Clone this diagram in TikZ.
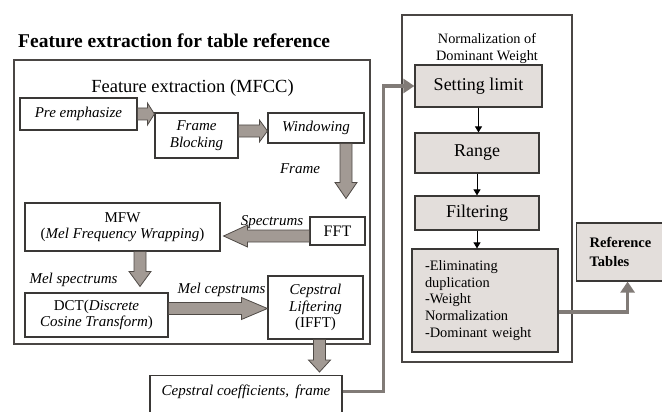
\documentclass[tikz,border=0pt]{standalone}
\usepackage{fontspec}
\setmainfont{Liberation Serif}
\usetikzlibrary{calc,arrows.meta}

\definecolor{boxline}{HTML}{3A3836}
\definecolor{panelline}{HTML}{4A4644}
\definecolor{boxfill}{HTML}{E3DEDB}
\definecolor{arrowfill}{HTML}{A29A94}
\definecolor{arrowline}{HTML}{4F4A46}
\definecolor{conncol}{HTML}{817B77}

% Outlined block arrow from #2 to the tip #3; #1 is the length of the head
\newcommand{\blockarrow}[3][12pt]{%
  \coordinate (ba-s) at #2;
  \coordinate (ba-t) at #3;
  \coordinate (ba-c) at ($(ba-t)!#1!(ba-s)$);
  \draw[barrow] ($(ba-s)!6pt!90:(ba-t)$) -- ($(ba-c)!6pt!-90:(ba-s)$)
    -- ($(ba-c)!11pt!-90:(ba-s)$) -- (ba-t) -- ($(ba-c)!11pt!90:(ba-s)$)
    -- ($(ba-c)!6pt!90:(ba-s)$) -- ($(ba-s)!6pt!-90:(ba-t)$) -- cycle;
}

\begin{document}
\begin{tikzpicture}[x=1pt,y=-1pt,
  box/.style={draw=boxline, line width=1.1pt, fill=white, inner sep=0pt,
    align=center, font=\fontsize{15}{16.5}\selectfont},
  ibox/.style={box, font=\fontsize{15}{16.5}\selectfont\itshape},
  gbox/.style={draw=boxline, line width=1.2pt, fill=boxfill, inner sep=0pt,
    font=\fontsize{18}{20}\selectfont},
  panel/.style={draw=panelline, line width=1.3pt, inner sep=0pt},
  lbl/.style={font=\fontsize{15}{17}\selectfont\itshape, inner sep=0pt, anchor=base},
  barrow/.style={fill=arrowfill, draw=arrowline, line width=0.8pt, line join=miter},
  conn/.style={draw=conncol, line width=3.6pt, -{Triangle[length=11pt,width=14pt]}},
  smallarrow/.style={line width=0.9pt, -{Triangle[length=6pt,width=7pt]}}
]
\useasboundingbox (0,0) rectangle (662,412);
\clip (0,0) rectangle (662,412);

% ---------- left part: MFCC feature extraction ----------
\node[font=\fontsize{19.5}{22}\selectfont\bfseries, anchor=base west, inner sep=0pt]
  (title) at (18,48) {Feature extraction for table reference};
\node[panel, minimum width=356pt, minimum height=284pt] (mfcc) at (192,202) {};
\node[font=\fontsize{18.5}{20}\selectfont, anchor=base, inner sep=0pt]
  (mfcctitle) at (192.5,93) {Feature extraction (MFCC)};

\node[ibox, minimum width=117pt, minimum height=32pt] (pre) at (78.5,114) {Pre emphasize};
\node[ibox, minimum width=83pt, minimum height=45pt] (fb) at (196.5,135.5) {Frame\\Blocking};
\node[ibox, minimum width=96pt, minimum height=30pt] (win) at (316,128) {Windowing};
\node[box, minimum width=55pt, minimum height=28pt, font=\fontsize{16}{18}\selectfont] (fft) at (337.5,231) {FFT};
\node[box, minimum width=195pt, minimum height=48pt] (mfw) at (122.5,227)
  {MFW\\(\textit{Mel Frequency Wrapping})};
\node[box, minimum width=143pt, minimum height=44pt] (dct) at (96.5,315)
  {DCT(\textit{Discrete}\\\textit{Cosine Transform})};
\node[box, minimum width=95pt, minimum height=63pt] (cl) at (315.5,307.5)
  {\textit{Cepstral}\\\textit{Liftering}\\(IFFT)};
\node[ibox, minimum width=192pt, anchor=north, inner ysep=6pt,
  text height=14pt, text depth=30pt] (cc) at (246,375) {Cepstral coefficients, \,frame};

% block arrows of the MFCC chain
\blockarrow[7pt]{(pre.east)}{(fb.west |- pre.east)}
\blockarrow[8pt]{($(fb.east)+(0,-4.5)$)}{($(win.west |- fb.east)+(0,-4.5)$)}
\blockarrow[16pt]{($(win.south)+(30,0)$)}{($(win.south |- fft.north)+(30,-18)$)}
\blockarrow[24pt]{($(fft.west)+(0,5)$)}{($(mfw.east |- fft.west)+(3,5)$)}
\blockarrow[15pt]{($(mfw.south)+(17.5,0)$)}{($(mfw.south |- dct.north)+(17.5,-6)$)}
\blockarrow[26pt]{($(dct.east)+(0,-6.5)$)}{($(cl.west |- dct.east)+(0,-6.5)$)}
\blockarrow[12pt]{($(cl.south)+(4,0)$)}{($(cl.south |- cc.north)+(4,-3)$)}

% labels on the block arrows
\node[lbl] (lframe) at (300,173) {Frame};
\node[lbl] (lspec) at (272,225) {Spectrums};
\node[lbl] (lmelspec) at (73.5,283) {Mel spectrums};
\node[lbl] (lmelcep) at (221.5,293) {Mel cepstrums};

% ---------- right part: normalization of dominant weight ----------
\node[panel, minimum width=170pt, minimum height=347pt] (norm) at (487,188.5) {};
\node[align=center, font=\fontsize{14.3}{17.5}\selectfont, inner sep=0pt]
  (normtitle) at (487,48.5) {Normalization of\\Dominant Weight};
\node[gbox, minimum width=127pt, minimum height=42pt] (sl) at (478.5,86) {Setting limit};
\node[gbox, minimum width=124pt, minimum height=40pt] (rng) at (477,153) {Range};
\node[gbox, minimum width=124pt, minimum height=34pt] (flt) at (477,213) {Filtering};
\node[gbox, minimum width=146pt, minimum height=103pt, text width=120pt, inner xsep=13pt,
  align=left, font=\fontsize{14.4}{16.7}\selectfont] (elim) at (485,300.5)
  {-Eliminating\\duplication\\-Weight\\Normalization\\-Dominant weight};
\node[gbox, anchor=west, minimum height=58pt, text width=70pt, inner xsep=13pt,
  align=left, font=\fontsize{14.5}{18.5}\selectfont\bfseries] (ref) at (576,252)
  {Reference\\Tables};

\draw[smallarrow] (sl.south) -- (sl.south |- rng.north);
\draw[smallarrow] (rng.south) -- (rng.south |- flt.north);
\draw[smallarrow] (flt.south) -- (flt.south |- elim.north);

% thick gray connectors
\draw[conn] ([yshift=4pt]cc.base east) -- ++(41,0) |- (sl.west);
\draw[conn] ([yshift=-11.5pt]elim.east) -| ([xshift=3pt]ref.south);
\end{tikzpicture}
\end{document}
